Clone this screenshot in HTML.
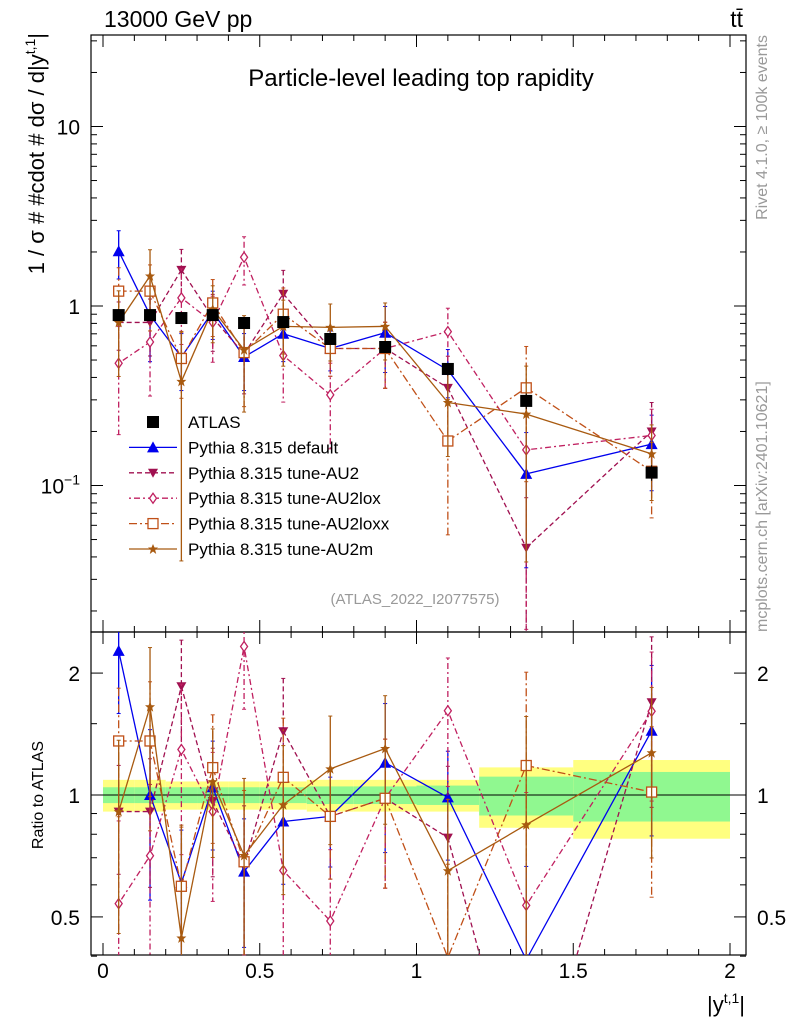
<!DOCTYPE html>
<html><head><meta charset="utf-8"><style>
html,body{margin:0;background:#fff;width:786px;height:1024px;overflow:hidden;}
svg{display:block;font-family:"Liberation Sans",sans-serif;}
</style></head><body>
<svg id="c" width="786" height="1024" xmlns="http://www.w3.org/2000/svg"></svg>
<script>
const xs=[0.05,0.15,0.25,0.35,0.45,0.575,0.725,0.9,1.1,1.35,1.75];
const atlasVals=[0.89,0.89,0.857,0.89,0.804,0.814,0.655,0.591,0.446,0.296,0.118];
const atlasErr=[0.05,0.05,0.05,0.05,0.06,0.06,0.07,0.07,0.08,0.1,0.1];
const defaultVals=[2.02,0.89,0.52,0.93,0.52,0.70,0.58,0.71,0.44,0.116,0.17];
const au2Vals=[0.81,0.81,1.59,0.86,0.54,1.17,0.58,0.58,0.35,0.045,0.20];
const loxVals=[0.48,0.63,1.11,0.81,1.87,0.53,0.32,0.58,0.72,0.158,0.19];
const loxxVals=[1.21,1.21,0.51,1.04,0.55,0.90,0.58,0.58,0.177,0.35,0.12];
const au2mVals=[0.81,1.47,0.38,0.96,0.57,0.77,0.76,0.77,0.29,0.25,0.15];
const defaultErr=[0.3,0.45,0.35,0.3,0.35,0.3,0.25,0.4,0.3,0.7,0.45];
const au2Err=[0.3,0.35,0.3,0.35,0.4,0.35,0.3,0.4,0.5,0.9,0.45];
const loxErr=[0.6,0.5,0.45,0.4,0.3,0.45,0.5,0.4,0.35,0.9,0.4];
const loxxErr=[0.35,0.4,0.4,0.35,0.5,0.4,0.3,0.4,0.7,0.7,0.45];
const au2mErr=[0.5,0.4,0.9,0.35,0.55,0.4,0.35,0.35,0.5,0.85,0.45];
const binEdges=[0,0.1,0.2,0.3,0.4,0.5,0.65,0.8,1.0,1.2,1.5,2.0];
const greenHalf=[0.045,0.045,0.045,0.045,0.045,0.045,0.05,0.05,0.055,0.11,0.14];
const yellowHalf=[0.09,0.09,0.08,0.08,0.08,0.08,0.09,0.09,0.09,0.17,0.22];
const xTicks=[0,0.5,1,1.5,2];
const ratioTicks=[0.5,1,2];

const S=document.getElementById('c');const NS='http://www.w3.org/2000/svg';
function el(t,a,p){const e=document.createElementNS(NS,t);for(const k in a)e.setAttribute(k,a[k]);(p||S).appendChild(e);return e;}
const L=91,R=746,T=35,M=632,B=955;
const X=v=>103+v*313.5;
const Y=v=>306-Math.log10(v)*179.5;
const YR=v=>795-Math.log10(v)*405;
function clipSeg(x1,y1,x2,y2,ymin,ymax){
 let t0=0,t1=1;const dy=y2-y1;
 if(dy===0){if(y1<ymin||y1>ymax)return null;}
 else{let ta=(ymin-y1)/dy,tb=(ymax-y1)/dy;if(ta>tb)[ta,tb]=[tb,ta];t0=Math.max(t0,ta);t1=Math.min(t1,tb);if(t0>t1)return null;}
 return [x1+(x2-x1)*t0,y1+dy*t0,x1+(x2-x1)*t1,y1+dy*t1];
}
const gb=el('g',{});
for(let i=0;i<xs.length;i++){const x0=X(binEdges[i]),x1=X(binEdges[i+1]);
 el('rect',{x:x0,y:YR(1+yellowHalf[i]),width:x1-x0,height:YR(1-yellowHalf[i])-YR(1+yellowHalf[i]),fill:'#ffff80'},gb);
 el('rect',{x:x0,y:YR(1+greenHalf[i]),width:x1-x0,height:YR(1-greenHalf[i])-YR(1+greenHalf[i]),fill:'#90f890'},gb);}
el('line',{x1:L,x2:R,y1:YR(1),y2:YR(1),stroke:'#000','stroke-width':1});
el('rect',{x:L,y:T,width:R-L,height:M-T,fill:'none',stroke:'#000','stroke-width':1.2});
el('rect',{x:L,y:M,width:R-L,height:B-M,fill:'none',stroke:'#000','stroke-width':1.2});
for(let d=-2;d<=1;d++)for(let m=1;m<10;m++){const v=m*Math.pow(10,d);const y=Y(v);if(y<T||y>M)continue;const len=m==1?12:6;
 el('line',{x1:L,x2:L+len,y1:y,y2:y,stroke:'#000'});el('line',{x1:R,x2:R-len,y1:y,y2:y,stroke:'#000'});}
const ty=[['10',Y(10)],['1',Y(1)]];
for(const [t,y] of ty){const e=el('text',{x:80,y:y+8,'text-anchor':'end','font-size':21});e.textContent=t;}
let e=el('text',{x:80,y:Y(0.1)+8,'text-anchor':'end','font-size':21});e.innerHTML='10<tspan dy="-9" font-size="14">−1</tspan>';
const rmin=[0.4,0.6,0.7,0.8,0.9,1.5];
for(const v of ratioTicks.concat(rmin)){const y=YR(v);const len=ratioTicks.includes(v)?12:6;
 el('line',{x1:L,x2:L+len,y1:y,y2:y,stroke:'#000'});el('line',{x1:R,x2:R-len,y1:y,y2:y,stroke:'#000'});}
for(const v of ratioTicks){e=el('text',{x:80,y:YR(v)+8,'text-anchor':'end','font-size':21});e.textContent=String(v);
 e=el('text',{x:757,y:YR(v)+8,'font-size':21});e.textContent=String(v);}
for(let i=0;i<=20;i++){const v=i/10,x=X(v),len=i%5==0?12:6;
 for(const [y0,s] of [[B,-1],[M,-1],[M,1],[T,1]])el('line',{x1:x,x2:x,y1:y0,y2:y0+s*len,stroke:'#000'});}
for(const v of xTicks){e=el('text',{x:X(v),y:978,'text-anchor':'middle','font-size':21});e.textContent=String(v);}
e=el('text',{x:104,y:27,'font-size':23});e.textContent='13000 GeV pp';
e=el('text',{x:743,y:27,'font-size':23,'text-anchor':'end'});e.textContent='tt̄';
e=el('text',{x:421,y:86,'font-size':24,'text-anchor':'middle'});e.textContent='Particle-level leading top rapidity';
e=el('text',{x:415,y:604,'font-size':15,fill:'#999','text-anchor':'middle'});e.textContent='(ATLAS_2022_I2077575)';
e=el('text',{x:745,y:1012,'font-size':22,'text-anchor':'end'});e.innerHTML='|y<tspan dy="-9" font-size="14">t,1</tspan><tspan dy="9">|</tspan>';
e=el('text',{transform:'translate(44,33) rotate(-90)','font-size':22,'text-anchor':'end'});e.innerHTML='1 / σ # #cdot # dσ / d|y<tspan dy="-9" font-size="14">t,1</tspan><tspan dy="9">|</tspan>';
e=el('text',{transform:'translate(43,795) rotate(-90)','font-size':16,'text-anchor':'middle'});e.textContent='Ratio to ATLAS';
e=el('text',{transform:'translate(767,35) rotate(-90)','font-size':16,fill:'#999','text-anchor':'end'});e.textContent='Rivet 4.1.0, ≥ 100k events';
e=el('text',{transform:'translate(767,632) rotate(-90)','font-size':16,fill:'#999'});e.textContent='mcplots.cern.ch [arXiv:2401.10621]';
function marker(g,kind,x,y,c){
 if(kind=='sq')el('rect',{x:x-6,y:y-6,width:12,height:12,fill:'#000'},g);
 else if(kind=='up')el('polygon',{points:`${x},${y-6} ${x-6},${y+5} ${x+6},${y+5}`,fill:c},g);
 else if(kind=='dn')el('polygon',{points:`${x},${y+5} ${x-5},${y-4} ${x+5},${y-4}`,fill:c},g);
 else if(kind=='dia')el('polygon',{points:`${x},${y-5} ${x-3.5},${y} ${x},${y+5} ${x+3.5},${y}`,fill:'#fff',stroke:c,'stroke-width':1.3},g);
 else if(kind=='osq')el('rect',{x:x-5,y:y-5,width:10,height:10,fill:'#fff',stroke:c,'stroke-width':1.3},g);
 else if(kind=='star')el('polygon',{points:`${x},${y-5} ${x+1.5},${y-1.5} ${x+5},${y-1.5} ${x+2.2},${y+1} ${x+3.2},${y+5} ${x},${y+2.5} ${x-3.2},${y+5} ${x-2.2},${y+1} ${x-5},${y-1.5} ${x-1.5},${y-1.5}`,fill:c},g);
}
const series=[
 ['default-series',defaultVals,defaultErr,'#0000ee','','up'],
 ['au2-series',au2Vals,au2Err,'#a01050','5,3','dn'],
 ['au2lox-series',loxVals,loxErr,'#c02060','2,3,6,3','dia'],
 ['au2loxx-series',loxxVals,loxxErr,'#c05018','8,3,2,3','osq'],
 ['au2m-series',au2mVals,au2mErr,'#a85a10','','star']];
for(const [name,vals,err,c,dash,mk] of series){
 for(const [fy,norm,y0,y1] of [[Y,false,T,M],[YR,true,M,B]]){
  const g=el('g',{});
  
  
  const v=vals.map((a,i)=>norm?a/atlasVals[i]:a);
  for(let i=0;i<v.length-1;i++){
   const s=clipSeg(X(xs[i]),fy(v[i]),X(xs[i+1]),fy(v[i+1]),y0,y1);
   if(s)el('line',{x1:s[0],y1:s[1],x2:s[2],y2:s[3],stroke:c,'stroke-width':1.3,'stroke-dasharray':dash},g);
  }
  v.forEach((a,i)=>{const x=X(xs[i]);const lo=a*(1-err[i]),hi=a*(1+err[i]);
   const cl=y=>Math.max(y0,Math.min(y1,y));
   const yh=fy(hi),yl=lo>0?fy(lo):y1;
   if(yh<y1&&yl>y0)el('line',{x1:x,x2:x,y1:cl(yh),y2:cl(yl),stroke:c,'stroke-width':1.3,'stroke-dasharray':dash},g);
   if(yh>y0&&yh<y1)el('line',{x1:x-2,x2:x+2,y1:yh,y2:yh,stroke:c},g);
   if(lo>0&&yl>y0&&yl<y1)el('line',{x1:x-2,x2:x+2,y1:yl,y2:yl,stroke:c},g);
   const ym=fy(a);if(ym>y0-2&&ym<y1+2)marker(g,mk,x,ym,c);});
 }
}
const ga=el('g',{});
atlasVals.forEach((a,i)=>{const x=X(xs[i]);el('line',{x1:x,x2:x,y1:Y(a*(1+atlasErr[i])),y2:Y(a*(1-atlasErr[i])),stroke:'#000'},ga);marker(ga,'sq',x,Y(a),'#000');});
const leg=[['ATLAS','#000','','sq'],['Pythia 8.315 default','#0000ee','','up'],['Pythia 8.315 tune-AU2','#a01050','5,3','dn'],['Pythia 8.315 tune-AU2lox','#c02060','2,3,6,3','dia'],['Pythia 8.315 tune-AU2loxx','#c05018','8,3,2,3','osq'],['Pythia 8.315 tune-AU2m','#a85a10','','star']];
leg.forEach(([t,c,d,mk],i)=>{const y=422+i*25.4;const g=el('g',{});
 
 if(i>0)el('line',{x1:129,x2:177,y1:y,y2:y,stroke:c,'stroke-width':1.3,'stroke-dasharray':d},g);
 marker(g,mk,153,y,c);
 const tx=el('text',{x:188,y:y+6,'font-size':17},g);tx.textContent=t;});
</script>
</body></html>
